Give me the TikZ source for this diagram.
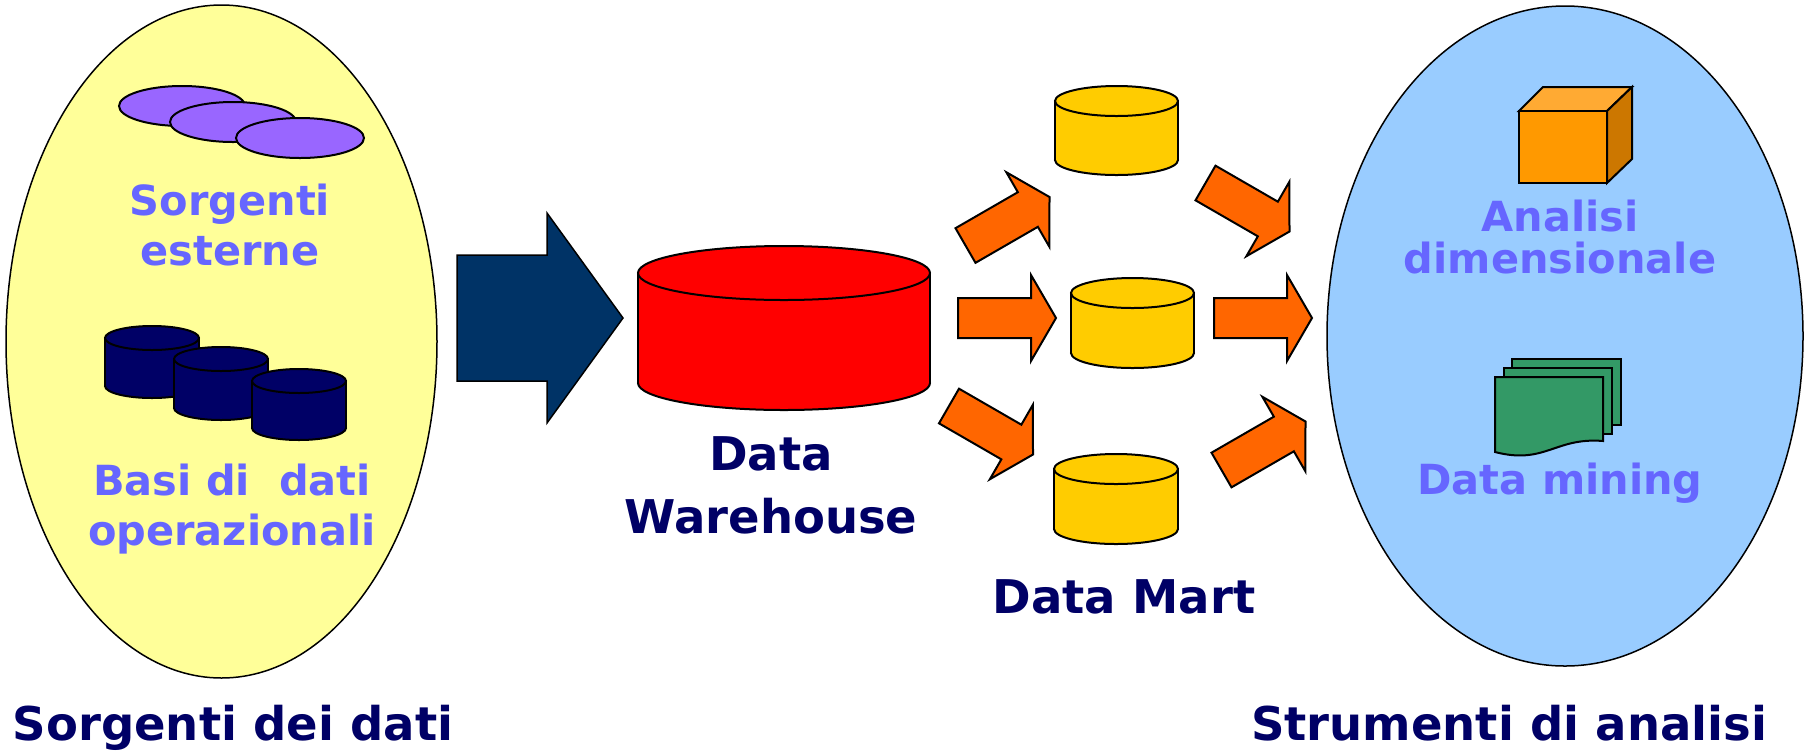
\documentclass[tikz,border=0pt]{standalone}
\usepackage{fontspec}
\setmainfont{DejaVu Sans}
\definecolor{srcyellow}{HTML}{FFFF99}
\definecolor{toolblue}{HTML}{99CCFF}
\definecolor{extpurple}{HTML}{9966FF}
\definecolor{dbnavy}{HTML}{000066}
\definecolor{bigarrow}{HTML}{003366}
\definecolor{dwred}{HTML}{FF0000}
\definecolor{dmyellow}{HTML}{FFCC00}
\definecolor{arrorange}{HTML}{FF6600}
\definecolor{lblblue}{HTML}{6666FF}
\definecolor{ttlnavy}{HTML}{000066}
\definecolor{cubefront}{HTML}{FF9900}
\definecolor{cubetop}{HTML}{FFAA33}
\definecolor{cubeside}{HTML}{CC7700}
\definecolor{docgreen}{HTML}{339966}
\tikzset{
  outl/.style={draw=black, line width=1pt},
  thinoutl/.style={draw=black, line width=0.75pt},
  lbl/.style={font=\bfseries\fontsize{20.75}{25}\selectfont, text=lblblue, align=center, inner sep=0pt, anchor=base},
  ttl/.style={font=\bfseries\fontsize{23.25}{31.5}\selectfont, text=ttlnavy, align=center, inner sep=0pt, anchor=base}
}
% cylinder: cx, top centre y, rx, ry, height, colour
\newcommand\dbcyl[6]{%
  \filldraw[fill=#6, outl] ({#1},{#2+#5}) ellipse [x radius=#3, y radius=#4];
  \fill[#6] ({#1-#3},{#2}) rectangle ({#1+#3},{#2+#5});
  \draw[outl] ({#1-#3},{#2}) -- ({#1-#3},{#2+#5}) ({#1+#3},{#2}) -- ({#1+#3},{#2+#5});
  \filldraw[fill=#6, outl] ({#1},{#2}) ellipse [x radius=#3, y radius=#4];
}
% block arrow: tail mid x, y, angle, length
\newcommand\blkarrow[4]{%
  \filldraw[fill=arrorange, outl, shift={(#1,#2)}, rotate=#3]
    (0,-20) -- ({#4-25},-20) -- ({#4-25},-43) -- (#4,0) -- ({#4-25},43) -- ({#4-25},20) -- (0,20) -- cycle;
}
\begin{document}
\begin{tikzpicture}[x=0.5pt, y=-0.5pt]
\useasboundingbox (0,0) rectangle (1805,751);
\fill[white] (0,0) rectangle (1805,751);

% source ellipse
\filldraw[fill=srcyellow, thinoutl] (221.5,341.5) ellipse [x radius=215.5, y radius=336.5];
% tools ellipse
\filldraw[fill=toolblue, thinoutl] (1565,336) ellipse [x radius=238, y radius=330];

% external sources (flat discs)
\filldraw[fill=extpurple, outl] (182,106) ellipse [x radius=63, y radius=20];
\filldraw[fill=extpurple, outl] (233,122) ellipse [x radius=63, y radius=20];
\filldraw[fill=extpurple, outl] (300,138) ellipse [x radius=64, y radius=20];

% operational databases
\dbcyl{152}{338}{47}{12}{48}{dbnavy}
\dbcyl{221}{359}{47}{12}{49}{dbnavy}
\dbcyl{299}{381}{47}{12}{47}{dbnavy}

% big arrow
\filldraw[fill=bigarrow, thinoutl] (457,255) -- (547,255) -- (547,213) -- (623,318) -- (547,423) -- (547,381) -- (457,381) -- cycle;

% data warehouse
\dbcyl{784}{273}{146}{27}{110}{dwred}

% data marts
\dbcyl{1116.5}{101}{61.5}{15}{59}{dmyellow}
\dbcyl{1132.5}{293}{61.5}{15}{60}{dmyellow}
\dbcyl{1116}{469}{62}{15}{60}{dmyellow}

% orange arrows
\blkarrow{965.5}{245.5}{30}{97}
\blkarrow{958}{318}{0}{98}
\blkarrow{949}{406}{-30}{97}
\blkarrow{1205.5}{183}{-30}{97}
\blkarrow{1214}{318}{0}{98}
\blkarrow{1221.5}{470}{30}{97}

% cube
\filldraw[fill=cubetop, outl] (1519,111) -- (1543,87) -- (1632,87) -- (1607,111) -- cycle;
\filldraw[fill=cubeside, outl] (1607,111) -- (1632,87) -- (1632,159) -- (1607,183) -- cycle;
\filldraw[fill=cubefront, outl] (1519,111) rectangle (1607,183);

% document stack
\filldraw[fill=docgreen, outl] (1512,359) rectangle (1621,425);
\filldraw[fill=docgreen, outl] (1504,368) rectangle (1612,434);
\filldraw[fill=docgreen, outl] (1495,377) -- (1603,377) -- (1603,441) .. controls (1555,437) and (1545,465) .. (1495,452) -- cycle;

% labels (base anchor = baseline of the last line)
\node[lbl] (ext) at (230,265) {Sorgenti\\esterne};
\node[lbl] (ops) at (232,545) {Basi di \ dati\\operazionali};
\node[lbl, font=\bfseries\fontsize{20.75}{21}\selectfont] (dim) at (1560,273) {Analisi\\dimensionale};
\node[lbl] (dmin) at (1560,494) {Data mining};
\node[ttl] (dw) at (771,533) {Data\\Warehouse};
\node[ttl] (dm) at (1124,613) {Data Mart};
\node[ttl] (src) at (233,740) {Sorgenti dei dati};
\node[ttl] (tools) at (1509,740) {Strumenti di analisi};
\end{tikzpicture}
\end{document}
